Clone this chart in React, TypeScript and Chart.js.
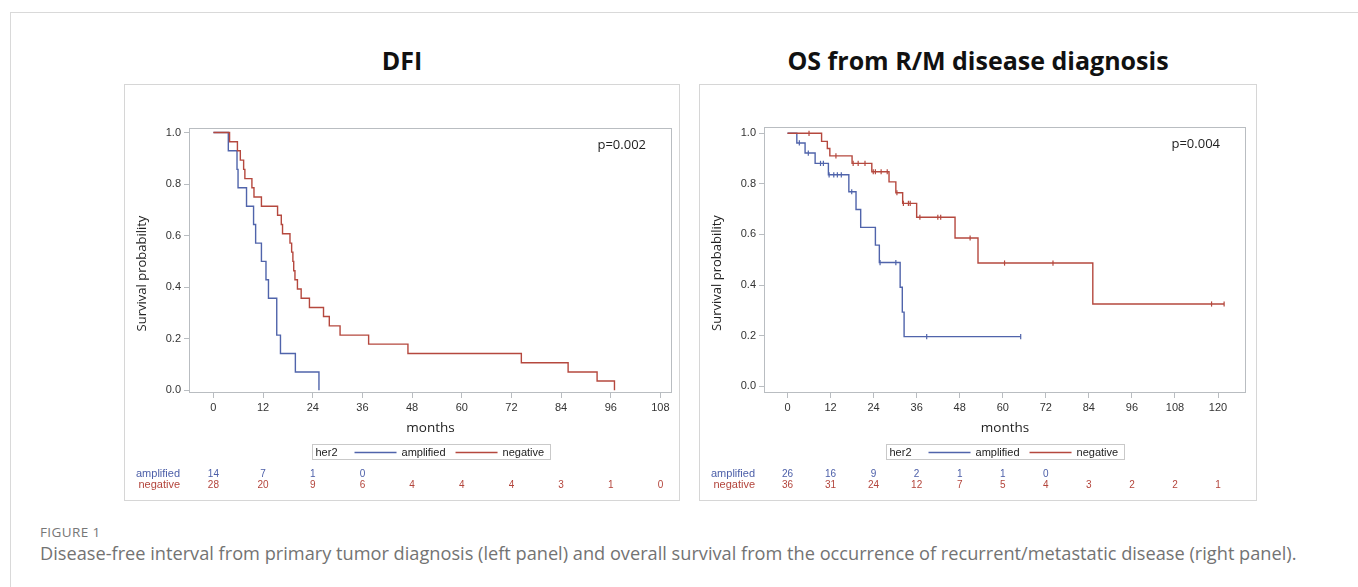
import React, { useEffect, useRef } from "react";
import { Chart, registerables } from "chart.js";

Chart.register(...registerables);

// ---------------- DATA ----------------
// DFI panel (left)
const dfiAmpTimes = [0, 3.6, 5.7, 5.95, 8.0, 9.7, 10.2, 11.6, 12.7, 13.3, 15.3, 16.2, 19.8, 25.5];
const dfiAmpSurv = [1, 0.929, 0.857, 0.786, 0.714, 0.643, 0.571, 0.5, 0.429, 0.357, 0.214, 0.143, 0.071, 0];
const dfiNegTimes = [0, 3.9, 5.8, 6.5, 7.3, 7.6, 9.3, 9.8, 11.6, 15.5, 16.4, 16.7, 18.5, 18.9, 19.2, 19.4, 19.7, 20.3, 21.2, 23.2, 26.6, 28.0, 30.6, 37.5, 47.0, 74.4, 85.7, 92.7, 96.9];
const dfiNegSurv = [1, 0.964, 0.929, 0.893, 0.857, 0.821, 0.786, 0.75, 0.714, 0.679, 0.643, 0.607, 0.571, 0.536, 0.5, 0.464, 0.429, 0.393, 0.357, 0.321, 0.286, 0.25, 0.214, 0.179, 0.143, 0.107, 0.071, 0.036, 0];
const dfiAmpCensor: number[] = [];
const dfiNegCensor: number[] = [];
const dfiXTicks = [0, 12, 24, 36, 48, 60, 72, 84, 96, 108];
const dfiAmpRisk = [14, 7, 1, 0];
const dfiNegRisk = [28, 20, 9, 6, 4, 4, 4, 3, 1, 0];

// OS panel (right)
const osAmpTimes = [0, 2.6, 4.9, 7.7, 11.4, 17.1, 19.1, 20.4, 24.5, 25.6, 31.4, 32.0, 32.5, 65.0];
const osAmpSurv = [1, 0.962, 0.922, 0.881, 0.836, 0.769, 0.699, 0.628, 0.558, 0.489, 0.391, 0.293, 0.196, 0.196];
const osAmpCensor = [3.3, 5.8, 9.2, 10.0, 11.6, 12.9, 13.9, 15.0, 17.9, 25.8, 30.2, 38.8, 65.0];
const osNegTimes = [0, 9.5, 11.1, 11.8, 18.0, 23.5, 28.3, 30.2, 32.1, 36.0, 46.7, 53.1, 85.1, 121.7];
const osNegSurv = [1, 0.968, 0.94, 0.911, 0.881, 0.848, 0.808, 0.765, 0.723, 0.668, 0.586, 0.487, 0.325, 0.325];
const osNegCensor = [6.0, 13.5, 18.3, 19.7, 21.6, 23.9, 24.5, 26.1, 27.8, 30.5, 32.3, 33.7, 34.2, 36.9, 41.9, 42.7, 50.9, 60.5, 74.0, 118.2, 121.7];
const osXTicks = [0, 12, 24, 36, 48, 60, 72, 84, 96, 108, 120];
const osAmpRisk = [26, 16, 9, 2, 1, 1, 0];
const osNegRisk = [36, 31, 24, 12, 7, 5, 4, 3, 2, 2, 1];

const yTicks = [0, 0.2, 0.4, 0.6, 0.8, 1.0];
const groupLabels = ["amplified", "negative"];
const legendTitle = "her2";

// ---------------- STYLE ----------------
const FONT = '"Liberation Sans", Arial, sans-serif';
const FONT2 = '"Open Sans", sans-serif';
const BLUE = "#5064ab";
const RED = "#b5483e";
const BLUE_TXT = "#4b5ea8";
const RED_TXT = "#b3443b";
const FRAME = "#b9bdc1";

type PanelSpec = {
  ampT: number[]; ampS: number[]; negT: number[]; negS: number[];
  ampC: number[]; negC: number[];
  xTicks: number[]; ampRisk: number[]; negRisk: number[];
  xMin: number; xMax: number; yMin: number; yMax: number;
  padTop: number; padRight: number; pValue: string;
  width: number; height: number;
};

function survAt(times: number[], surv: number[], t: number) {
  let s = surv[0];
  for (let i = 0; i < times.length; i++) if (times[i] <= t) s = surv[i];
  return s;
}

function makeChart(canvas: HTMLCanvasElement, p: PanelSpec) {
  const annot = {
    id: "annot",
    beforeDatasetsDraw(chart: any) {
      const { ctx, chartArea: a } = chart;
      ctx.save();
      ctx.strokeStyle = FRAME;
      ctx.lineWidth = 1;
      ctx.strokeRect(Math.round(a.left) + 0.5, Math.round(a.top) + 0.5, Math.round(a.right - a.left) - 1, Math.round(a.bottom - a.top) - 1);
      ctx.restore();
    },
    afterDraw(chart: any) {
      const { ctx, chartArea: a, scales } = chart;
      const xs = scales.x;
      const cx = (a.left + a.right) / 2;
      ctx.save();
      // y title
      ctx.fillStyle = "#222";
      ctx.font = `13px ${FONT2}`;
      ctx.textAlign = "center";
      ctx.textBaseline = "middle";
      ctx.save();
      ctx.translate(a.left - 46.5, (a.top + a.bottom) / 2 + 13);
      ctx.rotate(-Math.PI / 2);
      ctx.fillText("Survival probability", 0, 0);
      ctx.restore();
      // x title
      ctx.font = `13.5px ${FONT2}`;
      ctx.fillText("months", cx, a.bottom + 35);
      // p-value
      ctx.font = `13px ${FONT2}`;
      ctx.textAlign = "right";
      ctx.fillText(p.pValue, a.right - 26, a.top + 17);
      // legend
      ctx.font = `11px ${FONT}`;
      const wH = ctx.measureText(legendTitle).width;
      const wA = ctx.measureText(groupLabels[0]).width;
      const wN = ctx.measureText(groupLabels[1]).width;
      const lineLen = 42;
      const total = 3 + wH + 17 + lineLen + 5 + wA + 10 + lineLen + 5 + wN + 6;
      const bx = Math.round(cx - total / 2) + 0.5;
      const by = Math.round(a.bottom + 51) + 0.5;
      const bh = 15;
      ctx.strokeStyle = "#c9c9c9";
      ctx.lineWidth = 1;
      ctx.strokeRect(bx, by, Math.round(total), bh);
      const ty = by + bh / 2 + 0.5;
      ctx.textAlign = "left";
      ctx.fillStyle = "#222";
      let xx = bx + 3;
      ctx.fillText(legendTitle, xx, ty);
      xx += wH + 17;
      ctx.strokeStyle = BLUE;
      ctx.lineWidth = 1.3;
      ctx.beginPath(); ctx.moveTo(xx, ty); ctx.lineTo(xx + lineLen, ty); ctx.stroke();
      xx += lineLen + 5;
      ctx.fillText(groupLabels[0], xx, ty);
      xx += wA + 10;
      ctx.strokeStyle = RED;
      ctx.beginPath(); ctx.moveTo(xx, ty); ctx.lineTo(xx + lineLen, ty); ctx.stroke();
      xx += lineLen + 5;
      ctx.fillText(groupLabels[1], xx, ty);
      // at-risk table
      const yA = a.bottom + 81;
      const yN = a.bottom + 92;
      ctx.font = `11px ${FONT}`;
      ctx.textAlign = "right";
      ctx.fillStyle = BLUE_TXT;
      ctx.fillText(groupLabels[0], a.left - 9, yA);
      ctx.fillStyle = RED_TXT;
      ctx.fillText(groupLabels[1], a.left - 9, yN);
      ctx.font = `10px ${FONT}`;
      ctx.textAlign = "center";
      p.ampRisk.forEach((v, i) => {
        ctx.fillStyle = BLUE_TXT;
        ctx.fillText(String(v), xs.getPixelForValue(p.xTicks[i]), yA);
      });
      p.negRisk.forEach((v, i) => {
        ctx.fillStyle = RED_TXT;
        ctx.fillText(String(v), xs.getPixelForValue(p.xTicks[i]), yN);
      });
      ctx.restore();
    },
  };

  const toPts = (t: number[], s: number[]) => t.map((x, i) => ({ x, y: s[i] }));
  const censorPts = (c: number[], t: number[], s: number[]) => c.map((x) => ({ x, y: survAt(t, s, x) }));

  return new Chart(canvas, {
    type: "line",
    data: {
      datasets: [
        { data: toPts(p.negT, p.negS), borderColor: RED, borderWidth: 1.4, stepped: "before", pointRadius: 0, fill: false },
        { data: toPts(p.ampT, p.ampS), borderColor: BLUE, borderWidth: 1.4, stepped: "before", pointRadius: 0, fill: false },
        { type: "scatter", data: censorPts(p.negC, p.negT, p.negS), borderColor: RED, backgroundColor: RED, pointStyle: "line", rotation: 90, pointRadius: 2.6, borderWidth: 1.2, showLine: false } as any,
        { type: "scatter", data: censorPts(p.ampC, p.ampT, p.ampS), borderColor: BLUE, backgroundColor: BLUE, pointStyle: "line", rotation: 90, pointRadius: 2.6, borderWidth: 1.2, showLine: false } as any,
      ],
    },
    options: {
      animation: false,
      responsive: false,
      devicePixelRatio: 1,
      events: [],
      layout: { padding: { left: 0, top: p.padTop, right: p.padRight, bottom: 0 } },
      plugins: { legend: { display: false }, tooltip: { enabled: false } },
      scales: {
        x: {
          type: "linear",
          min: p.xMin,
          max: p.xMax,
          afterFit: (s: any) => { s.height = 107; },
          afterBuildTicks: (s: any) => { s.ticks = p.xTicks.map((v) => ({ value: v })); },
          grid: { display: true, drawOnChartArea: false, drawTicks: true, tickLength: 5, color: FRAME },
          border: { display: false },
          ticks: { autoSkip: false, maxRotation: 0, padding: 3, color: "#333", font: { family: FONT, size: 11 }, callback: (v: any) => String(v) },
        },
        y: {
          type: "linear",
          min: p.yMin,
          max: p.yMax,
          afterFit: (s: any) => { s.width = 64; },
          afterBuildTicks: (s: any) => { s.ticks = yTicks.map((v) => ({ value: v })); },
          grid: { display: true, drawOnChartArea: false, drawTicks: true, tickLength: 5, color: FRAME },
          border: { display: false },
          ticks: { padding: 3, color: "#333", font: { family: FONT, size: 11 }, callback: (v: any) => Number(v).toFixed(1) },
        },
      },
    } as any,
    plugins: [annot],
  });
}

function Panel({ spec, left, top, width, height }: { spec: PanelSpec; left: number; top: number; width: number; height: number }) {
  const ref = useRef<HTMLCanvasElement>(null);
  useEffect(() => {
    if (!ref.current) return;
    const ch = makeChart(ref.current, spec);
    return () => ch.destroy();
  }, []);
  return (
    <div style={{ position: "absolute", left, top, width, height, border: "1px solid #d6d6d6", boxSizing: "border-box", background: "#fff" }}>
      <canvas ref={ref} width={width - 2} height={height - 2} style={{ position: "absolute", left: 0, top: 0, width: width - 2, height: height - 2 }} />
    </div>
  );
}

const leftSpec: PanelSpec = {
  ampT: dfiAmpTimes, ampS: dfiAmpSurv, negT: dfiNegTimes, negS: dfiNegSurv,
  ampC: dfiAmpCensor, negC: dfiNegCensor, xTicks: dfiXTicks, ampRisk: dfiAmpRisk, negRisk: dfiNegRisk,
  xMin: -5.9, xMax: 110.8, yMin: -0.0105, yMax: 1.0175, padTop: 43, padRight: 7, pValue: "p=0.002",
  width: 556, height: 417,
};
const rightSpec: PanelSpec = {
  ampT: osAmpTimes, ampS: osAmpSurv, negT: osNegTimes, negS: osNegSurv,
  ampC: osAmpCensor, negC: osNegCensor, xTicks: osXTicks, ampRisk: osAmpRisk, negRisk: osNegRisk,
  xMin: -6.55, xMax: 127.8, yMin: -0.027, yMax: 1.025, padTop: 42, padRight: 10, pValue: "p=0.004",
  width: 558, height: 417,
};

export default function App() {
  const titleStyle: React.CSSProperties = {
    position: "absolute", top: 45, height: 30, lineHeight: "30px", textAlign: "center",
    fontFamily: FONT2, fontWeight: 700, fontSize: 25, color: "#111",
  };
  return (
    <div style={{ position: "absolute", left: 0, top: 0, width: 1358, height: 587, background: "#fff", overflow: "hidden" }}>
      <div style={{ position: "absolute", left: 10, top: 12, width: 1348, height: 1, background: "#d9d9d9" }} />
      <div style={{ position: "absolute", left: 10, top: 12, width: 1, height: 575, background: "#d9d9d9" }} />
      <div style={{ ...titleStyle, left: 124, width: 556 }}>DFI</div>
      <div style={{ ...titleStyle, left: 699, width: 558 }}>OS from R/M disease diagnosis</div>
      <Panel spec={leftSpec} left={124} top={84} width={556} height={417} />
      <Panel spec={rightSpec} left={699} top={84} width={558} height={417} />
      <div style={{ position: "absolute", left: 40, top: 524, fontFamily: FONT2, fontSize: 13.5, letterSpacing: 0.4, color: "#777", lineHeight: "16px" }}>FIGURE 1</div>
      <div style={{ position: "absolute", left: 40, top: 541, fontFamily: FONT2, fontSize: 18.2, color: "#737373", lineHeight: "24px", whiteSpace: "nowrap" }}>
        Disease-free interval from primary tumor diagnosis (left panel) and overall survival from the occurrence of recurrent/metastatic disease (right panel).
      </div>
    </div>
  );
}
